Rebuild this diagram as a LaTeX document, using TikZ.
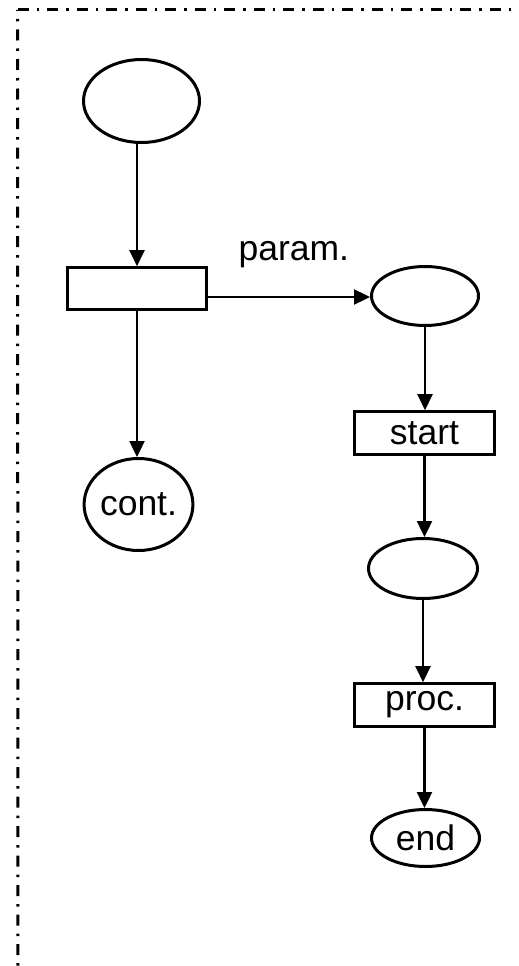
\documentclass[tikz,border=0pt]{standalone}
\usepackage{fontspec}
\setmainfont{Liberation Sans}
\usetikzlibrary{arrows.meta,shapes.geometric}
\begin{document}
\begin{tikzpicture}[x=1pt,y=-1pt,
  lbl/.style={font=\fontsize{35.5}{40}\selectfont},
  place/.style={ellipse, draw, line width=3pt, inner sep=0pt, lbl},
  trans/.style={rectangle, draw, line width=2.6pt, inner sep=0pt, lbl},
  arc/.style={line width=2.4pt, -{Triangle[length=16pt,width=15pt]}},
  frame/.style={line width=3pt, dash pattern=on 11pt off 8pt on 2.5pt off 8pt}]
\useasboundingbox (0,0) rectangle (519,966);
% frame (top and left only)
\coordinate (c0) at (17.5,10);
\coordinate (c1) at (519,10);
\coordinate (c2) at (18,966);
\draw[frame] (c0) -- (c1);
\draw[frame, dash phase=10pt] (c0) -- (c2);
% nodes
\node[place, minimum width=116pt, minimum height=83pt] (e1) at (141.5,101) {};
\node[trans, minimum width=139pt, minimum height=42pt] (r1) at (137,288.5) {};
\node[place, minimum width=102pt, minimum height=92pt] (cont) at (138.5,504.5) {cont.};
\node[place, minimum width=107pt, minimum height=59pt] (e2) at (425,296) {};
\node[trans, minimum width=140pt, minimum height=43pt] (start) at (424.5,433) {start};
\node[place, minimum width=109pt, minimum height=60pt] (e3) at (423,568.5) {};
\node[trans, minimum width=140pt, minimum height=43pt] (proc) at (424.5,705) {proc.};
\node[place, minimum width=108pt, minimum height=57pt] (end) at (425.5,838) {end};
% connectors
\draw[arc] (e1.south -| r1.north) -- (r1.north);
\draw[arc] (r1.south) -- (r1.south |- cont.north);
\draw[arc] (r1.east |- 0,297) -- (e2.west |- 0,297)
  node[lbl, pos=0.53, above=28pt, inner sep=0pt] {param.};
\draw[arc] (e2.south) -- (e2.south |- start.north);
\draw[arc] (start.south) -- (start.south |- e3.north);
\draw[arc] (e3.south) -- (e3.south |- proc.north);
\draw[arc] (proc.south) -- (proc.south |- end.north);
\end{tikzpicture}
\end{document}
